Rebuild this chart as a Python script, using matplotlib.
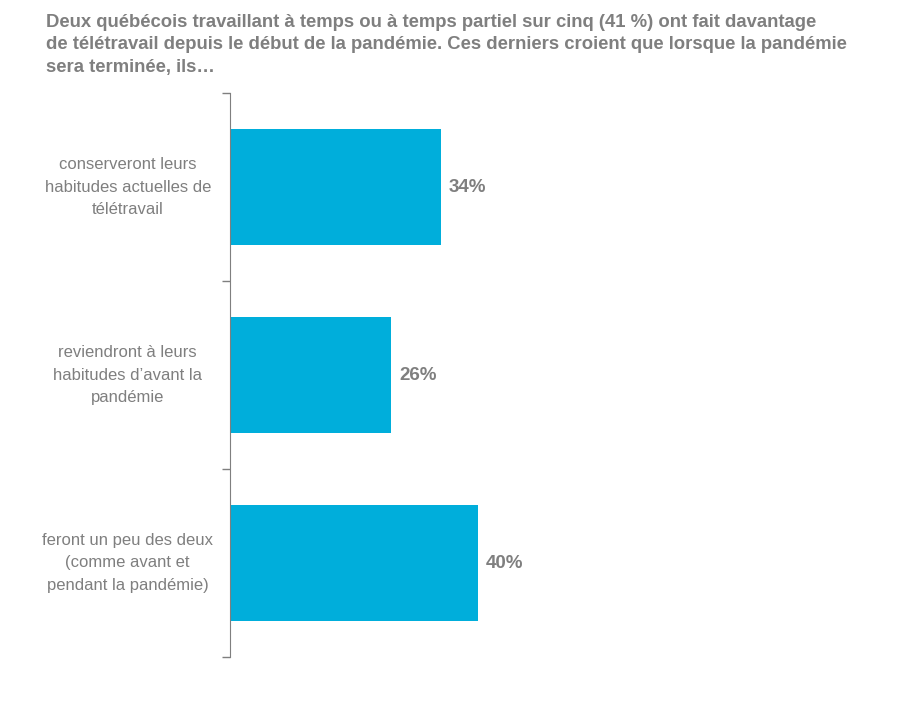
import matplotlib
matplotlib.use('Agg')
import matplotlib.pyplot as plt

plt.rcParams['font.family'] = ['Liberation Sans', 'DejaVu Sans']

# données
categories = [
    "conserveront leurs\nhabitudes actuelles de\ntélétravail",
    "reviendront à leurs\nhabitudes d\u2019avant la\npandémie",
    "feront un peu des deux\n(comme avant et\npendant la pandémie)",
]
values = [34, 26, 40]
title = ("Deux québécois travaillant à temps ou à temps partiel sur cinq (41 %) ont fait davantage\n"
         "de télétravail depuis le début de la pandémie. Ces derniers croient que lorsque la pandémie\n"
         "sera terminée, ils\u2026")

gris = '#7F7F7F'
bleu = '#00AEDB'

fig = plt.figure(figsize=(9.11, 7.04), dpi=100)
ax = fig.add_axes([230 / 911, 47 / 704, 620 / 911, 564 / 704])

y = list(range(len(values)))
ax.barh(y, values, height=0.62, color=bleu)
ax.set_xlim(0, 100)
ax.set_ylim(len(values) - 0.5, -0.5)

for yi, v in zip(y, values):
    ax.text(v + 1.3, yi, f'{v}%', va='center', ha='left', fontsize=13.5,
            fontweight='bold', color=gris)

ax.set_yticks([-0.5, 0.5, 1.5, 2.5])
ax.set_yticklabels([])
ax.tick_params(axis='y', length=6, color=gris, width=1)
ax.set_xticks([])
for yi, lab in zip(y, categories):
    ax.text(-0.165, yi, lab, transform=ax.get_yaxis_transform(), ha='center', va='center',
            fontsize=12, color=gris, linespacing=1.65)

for s in ['top', 'right', 'bottom']:
    ax.spines[s].set_visible(False)
ax.spines['left'].set_color(gris)

fig.text(46 / 911, 1 - 14 / 704, title, ha='left', va='top', fontsize=13.3,
         fontweight='bold', color=gris, linespacing=1.42)

fig.savefig('out.png', dpi=100)
